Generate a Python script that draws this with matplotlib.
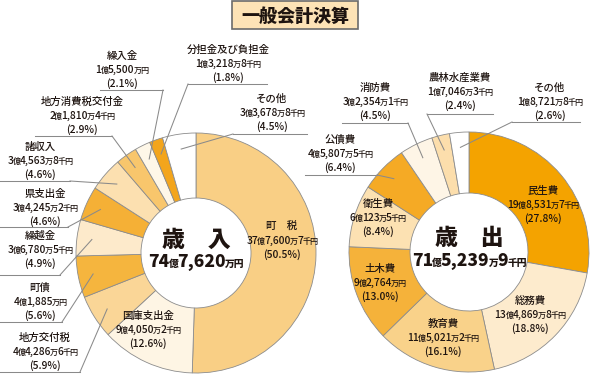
import re
import math
import matplotlib
matplotlib.use('Agg')
import matplotlib.pyplot as plt
from matplotlib.patches import Rectangle

W, H = 590, 375
TXT = '#1e1410'
LINE = '#8a8a8a'
UNITS = '億万千円'

# 歳入
rev_names = ['町　税', '国庫支出金', '地方交付税', '町債', '繰越金', '県支出金',
             '諸収入', '地方消費税交付金', '繰入金', '分担金及び負担金', 'その他']
rev_amounts = ['37億7,600万7千円', '9億4,050万2千円', '4億4,286万6千円', '4億1,885万円',
               '3億6,780万5千円', '3億4,245万2千円', '3億4,563万8千円', '2億1,810万4千円',
               '1億5,500万円', '1億3,218万8千円', '3億3,678万8千円']
rev_pcts = [50.5, 12.6, 5.9, 5.6, 4.9, 4.6, 4.6, 2.9, 2.1, 1.8, 4.5]
rev_colors = ['#F9CF85', '#FEF5E4', '#FAD697', '#F5B53E', '#FDEACB', '#F5B036',
              '#FCE0B0', '#F8C66C', '#FEF7E8', '#F3A51C', '#FFFFFF']
rev_total = ['歳　入', '74億7,620万円']

# 歳出
exp_names = ['民生費', '総務費', '教育費', '土木費', '衛生費', '公債費', '消防費',
             '農林水産業費', 'その他']
exp_amounts = ['19億8,531万7千円', '13億4,869万8千円', '11億5,021万2千円', '9億2,764万円',
               '6億123万5千円', '4億5,807万5千円', '3億2,354万1千円', '1億7,046万3千円',
               '1億8,721万8千円']
exp_pcts = [27.8, 18.8, 16.1, 13.0, 8.4, 6.4, 4.5, 2.4, 2.6]
exp_colors = ['#F4A300', '#FDEBCD', '#F9D28A', '#F5B23A', '#FCE1B2', '#F5AA25',
              '#FEF5E6', '#FCDEAC', '#FFFFFF']
exp_total = ['歳　出', '71億5,239万9千円']

# label layout (image pixels, y down): text x, first line y, leader (y, x0, x1, anchor x) or None
rev_layout = [
    (282, 226, None), (148, 315, None),
    (45, 337, (372, 0, 80, 80)), (40, 287, (322, 0, 62, 62)),
    (40, 235, (275, 0, 60, 60)), (45, 193, (227, 0, 68, 68)),
    (40, 146, (181, 0, 70, 70)), (82, 101, (136, 35, 112, 112)),
    (122, 55, (90, 100, 163, 163)), (228, 49, (84, 188, 267, 188)),
    (272, 98, (134, 233, 307, 233)),
]
exp_layout = [
    (543, 190, None), (530, 300, None), (443, 323, None), (380, 268, None),
    (378, 203, None), (340, 139, (175, 305, 377, 377)),
    (375, 87, (123, 342, 408, 408)), (460, 77, (114, 427, 493, 427)),
    (550, 87, (122, 512, 580, 512)),
]

plt.rcParams['font.family'] = ['Noto Sans CJK JP', 'DejaVu Sans']

fig = plt.figure(figsize=(W / 100, H / 100), dpi=100)
ax = fig.add_axes([0, 0, 1, 1])


def rich(x, y, s, big, small=None, weight='medium'):
    # centred text line, with 億万千円 drawn smaller; x, y in image pixels
    small = small or big
    runs = re.findall(f'[{UNITS}]+|[^{UNITS}]+', s)
    rend = fig.canvas.get_renderer()
    ts = [ax.text(0, 0, r, fontsize=small if r[0] in UNITS else big,
                  fontweight=weight, color=TXT, ha='left', va='baseline')
          for r in runs]
    ws = [t.get_window_extent(rend).width - (0.8 if len(runs) > 1 else 0) for t in ts]
    left = x - sum(ws) / 2
    base = H - y - big * 100 / 72 * 0.37
    for t, w in zip(ts, ws):
        t.set_position((left, base))
        left += w


def donut(cx, cy, r_in, pcts, colors, names, amounts, layout, total):
    ax.pie(pcts, colors=colors, startangle=90, counterclock=False,
           center=(cx, H - cy), radius=120, normalize=True,
           wedgeprops=dict(width=120 - r_in, edgecolor='#8c8c8c', linewidth=0.6))
    cum = 0
    for p, name, amt, (tx, ty, lead) in zip(pcts, names, amounts, layout):
        mid = (cum + p / 2) / sum(pcts) * 2 * math.pi
        cum += p
        rich(tx, ty, name, 7.5)
        rich(tx, ty + 14.5, amt, 7.4, 5.8)
        rich(tx, ty + 28, f'({p:.1f}%)', 7.4)
        if lead:
            ly, x0, x1, xa = lead
            px = cx + 105 * math.sin(mid)
            py = cy - 105 * math.cos(mid)
            ax.plot([x0, x1], [H - ly, H - ly], color=LINE, lw=0.75)
            ax.plot([xa, px], [H - ly, H - py], color=LINE, lw=0.75)
    rich(cx, cy - 15, total[0], 16.5, weight='heavy')
    rich(cx, cy + 8, total[1], 12.5, 7, weight='heavy')


donut(196, 253, 55, rev_pcts, rev_colors, rev_names, rev_amounts, rev_layout, rev_total)
donut(469, 252, 59, exp_pcts, exp_colors, exp_names, exp_amounts, exp_layout, exp_total)

# title box
ax.add_patch(Rectangle((232, H - 29), 126, 28, facecolor='#FDE3B6',
                       edgecolor='#6b6b6b', linewidth=1.2))
rich(295, 15, '一般会計決算', 13, weight='heavy')

ax.set_xlim(0, W)
ax.set_ylim(0, H)
ax.set_aspect('equal')
ax.axis('off')

fig.savefig('out.png', dpi=100)
